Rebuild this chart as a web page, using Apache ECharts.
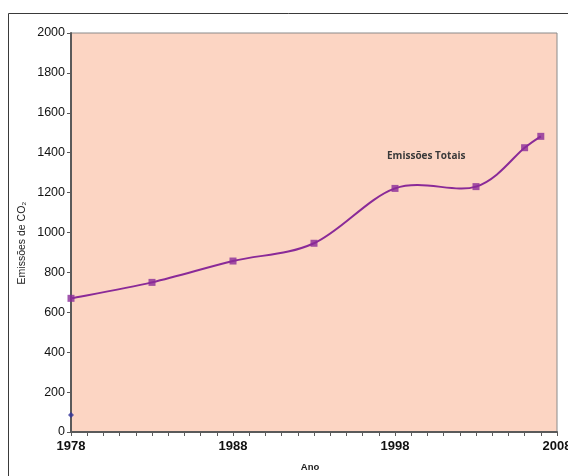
<!DOCTYPE html>
<html>
<head>
<meta charset="utf-8">
<script src="https://cdn.jsdelivr.net/npm/echarts@6/dist/echarts.min.js"></script>
<style>
  html, body { margin: 0; padding: 0; background: #ffffff; }
  #chart { width: 568px; height: 476px; }
</style>
</head>
<body>
<div id="chart"></div>
<script>
// Total CO2 emissions by year
const years = [1978, 1983, 1988, 1993, 1998, 2003, 2006, 2007];
const totalEmissions = [670, 750, 857, 946, 1221, 1230, 1425, 1482];
// Single isolated reading at the start of the period
const baseYear = [1978];
const baseValue = [85];
const xTickLabels = [1978, 1988, 1998, 2008];
const seriesName = 'Emissões Totais';

const lineColor = '#8A2A98';

const chart = echarts.init(document.getElementById('chart'), null, { renderer: 'canvas' });

const axisLineStyle = { color: '#5a5a5a', width: 2 };

// Smooth curve through the points (Catmull-Rom style cubic Bezier, tension 1/6),
// built from pixel positions supplied by the axes.
function renderSmoothLine(params, api) {
  if (params.dataIndex !== 0) return null;
  const pts = years.map((y, i) => api.coord([y, totalEmissions[i]]));
  let d = 'M' + pts[0][0] + ' ' + pts[0][1];
  for (let i = 0; i < pts.length - 1; i++) {
    const p0 = pts[Math.max(i - 1, 0)];
    const p1 = pts[i];
    const p2 = pts[i + 1];
    const p3 = pts[Math.min(i + 2, pts.length - 1)];
    const c1x = p1[0] + (p2[0] - p0[0]) / 6;
    const c1y = p1[1] + (p2[1] - p0[1]) / 6;
    const c2x = p2[0] - (p3[0] - p1[0]) / 6;
    const c2y = p2[1] - (p3[1] - p1[1]) / 6;
    d += ' C' + c1x + ' ' + c1y + ' ' + c2x + ' ' + c2y + ' ' + p2[0] + ' ' + p2[1];
  }
  return {
    type: 'path',
    shape: { pathData: d },
    style: { fill: 'none', stroke: lineColor, lineWidth: 2 }
  };
}

chart.setOption({
  animation: false,
  backgroundColor: '#ffffff',
  grid: {
    left: 71, right: 11, top: 33, bottom: 44,
    outerBoundsMode: 'none',
    containLabel: false,
    show: true,
    backgroundColor: '#FCD5C3',
    borderColor: '#8a8a8a',
    borderWidth: 1
  },
  xAxis: {
    type: 'value',
    min: 1978, max: 2008, interval: 1,
    axisLine: { show: true, onZero: false, lineStyle: axisLineStyle },
    axisTick: { show: true, inside: false, length: 4, lineStyle: { color: '#5a5a5a', width: 1 } },
    splitLine: { show: false },
    axisLabel: {
      margin: 8,
      color: '#111',
      fontFamily: 'Liberation Sans, Arial, sans-serif',
      fontWeight: 'bold',
      fontSize: 13,
      showMinLabel: true,
      showMaxLabel: true,
      formatter: v => xTickLabels.includes(v) ? String(v) : ''
    }
  },
  yAxis: {
    type: 'value',
    min: 0, max: 2000, interval: 200,
    axisLine: { show: true, lineStyle: axisLineStyle },
    axisTick: { show: true, inside: false, length: 4, lineStyle: { color: '#5a5a5a', width: 1 } },
    splitLine: { show: false },
    axisLabel: {
      margin: 6,
      color: '#111',
      fontFamily: 'Liberation Sans, Arial, sans-serif',
      fontSize: 12.5,
      formatter: v => String(v)
    }
  },
  series: [
    {
      name: seriesName,
      type: 'custom',
      renderItem: renderSmoothLine,
      data: years.map((y, i) => [y, totalEmissions[i]]),
      encode: { x: 0, y: 1 },
      clip: false,
      z: 2
    },
    {
      name: seriesName,
      type: 'scatter',
      data: years.map((y, i) => [y, totalEmissions[i]]),
      symbol: 'rect',
      symbolSize: 7,
      itemStyle: { color: lineColor },
      z: 3
    },
    {
      type: 'scatter',
      data: baseYear.map((y, i) => [y, baseValue[i]]),
      symbol: 'diamond',
      symbolSize: 6,
      itemStyle: { color: '#33339a' },
      z: 4
    }
  ],
  graphic: [
    {
      type: 'rect',
      shape: { x: 8.5, y: 13.5, width: 700, height: 600 },
      style: { fill: 'none', stroke: '#3a3a3a', lineWidth: 1 },
      silent: true, z: 0
    },
    {
      type: 'text',
      left: 387, top: 151,
      style: {
        text: seriesName,
        fill: '#3a3a3a',
        font: 'bold 10px "Open Sans", sans-serif'
      },
      z: 10
    },
    {
      type: 'text',
      x: 22, y: 243,
      rotation: Math.PI / 2,
      style: {
        text: 'Emissões de CO₂',
        fill: '#222',
        font: '10.5px "Liberation Sans", Arial, sans-serif',
        align: 'center',
        verticalAlign: 'middle'
      },
      z: 10
    },
    {
      type: 'text',
      x: 310, y: 467,
      style: {
        text: 'Ano',
        fill: '#222',
        font: 'bold 9.5px "Liberation Sans", Arial, sans-serif',
        align: 'center',
        verticalAlign: 'middle'
      },
      z: 10
    }
  ]
});
</script>
</body>
</html>
